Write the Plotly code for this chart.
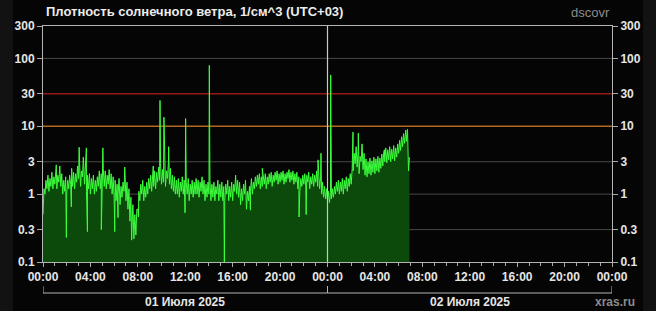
import plotly.graph_objects as go

# ---------------- data ----------------
title_text = "Плотность солнечного ветра, 1/см^3 (UTC+03)"
source_text = "dscovr"
site_text = "xras.ru"
day_labels = ["01 Июля 2025", "02 Июля 2025"]
day_centers = [12, 36]            # hours from 01 Jul 00:00 (UTC+03)

x_tick_hours = [0, 4, 8, 12, 16, 20, 24, 28, 32, 36, 40, 44, 48]
x_tick_labels = ["00:00", "04:00", "08:00", "12:00", "16:00", "20:00",
                 "00:00", "04:00", "08:00", "12:00", "16:00", "20:00", "00:00"]
y_tick_vals = [0.1, 0.3, 1, 3, 10, 30, 100, 300]
y_tick_labels = ["0.1", "0.3", "1", "3", "10", "30", "100", "300"]
grid_vals = [0.3, 1, 3, 100]
alert_levels = [10, 30]

step_minutes = 10
# low / high edge of the noisy density band (1/cm^3) in each 10-minute slot,
# starting 01 Jul 00:00, one row per hour
band_low = [
    0.5, 1.0, 1.2, 1.1, 1.3, 1.2,      # 00
    1.4, 1.2, 1.5, 1.3, 1.0, 1.1,      # 01
    1.0, 1.2, 1.4, 1.3, 1.2, 1.5,      # 02
    1.7, 1.3, 1.8, 1.4, 1.1, 1.2,      # 03
    1.0, 1.2, 1.0, 1.1, 1.3, 1.2,      # 04
    1.4, 1.3, 1.2, 1.4, 1.2, 1.0,      # 05
    0.9, 0.8, 1.0, 0.7, 0.9, 1.1,      # 06
    0.8, 0.6, 0.4, 0.3, 0.22, 0.25,    # 07
    0.6, 0.8, 1.0, 0.8, 0.9, 1.0,      # 08
    1.2, 1.1, 1.3, 1.2, 1.5, 1.6,      # 09
    1.4, 1.5, 1.3, 1.7, 1.4, 1.2,      # 10
    1.1, 1.0, 1.0, 0.9, 1.1, 1.0,      # 11
    0.9, 1.0, 0.8, 1.0, 0.9, 1.0,      # 12
    1.0, 0.9, 1.1, 1.0, 0.8, 0.9,      # 13
    1.0, 0.8, 0.9, 0.8, 1.0, 0.8,      # 14
    0.9, 0.8, 0.8, 1.0, 0.8, 0.9,      # 15
    0.8, 1.1, 1.0, 0.9, 0.7, 0.8,      # 16
    1.0, 0.6, 0.8, 1.1, 1.0, 1.2,      # 17
    1.3, 1.4, 1.2, 1.3, 1.4, 1.2,      # 18
    1.4, 1.5, 1.3, 1.5, 1.6, 1.4,      # 19
    1.5, 1.6, 1.4, 1.5, 1.7, 1.5,      # 20
    1.6, 1.4, 1.5, 1.2, 1.1, 1.3,      # 21
    1.4, 1.3, 1.5, 1.2, 1.4, 1.3,      # 22
    1.5, 1.3, 1.2, 1.0, 0.9, 0.85,     # 23
    0.8, 0.75, 0.85, 0.9, 1.0, 1.1,    # 00 (02 Jul)
    1.0, 1.1, 1.0, 1.2, 1.1, 1.3,      # 01
    1.4, 2.2, 2.8, 2.5, 2.0, 3.0,      # 02
    2.3, 1.9, 1.8, 2.0, 1.9, 2.1,      # 03
    2.0, 2.2, 2.1, 2.4, 2.6, 3.0,      # 04
    2.9, 3.2, 3.0, 3.3, 3.1, 3.5,      # 05
    4.0, 4.4, 5.0, 5.6, 6.0, 2.2,      # 06
]
band_high = [
    1.2, 1.6, 1.9, 1.7, 2.1, 1.8,      # 00
    2.3, 1.9, 2.6, 2.0, 1.6, 1.8,      # 01
    1.6, 1.9, 2.4, 2.1, 2.0, 2.6,      # 02
    3.0, 2.2, 3.2, 2.5, 1.9, 2.0,      # 03
    1.7, 1.9, 1.6, 1.8, 2.2, 2.0,      # 04
    2.4, 2.2, 1.9, 2.3, 2.0, 1.8,      # 05
    1.6, 1.4, 1.7, 1.3, 1.5, 1.9,      # 06
    1.5, 1.2, 0.9, 0.7, 0.5, 0.6,      # 07
    1.1, 1.4, 1.6, 1.3, 1.5, 1.7,      # 08
    1.9, 1.8, 2.2, 2.1, 2.5, 2.8,      # 09
    2.3, 2.6, 2.2, 3.0, 2.4, 1.9,      # 10
    1.8, 1.6, 1.7, 1.5, 1.8, 1.6,      # 11
    1.5, 1.7, 1.4, 1.6, 1.5, 1.7,      # 12
    1.6, 1.5, 1.8, 1.6, 1.4, 1.5,      # 13
    1.6, 1.4, 1.5, 1.3, 1.6, 1.4,      # 14
    1.5, 1.3, 1.4, 1.6, 1.3, 1.5,      # 15
    1.4, 1.9, 1.6, 1.5, 1.2, 1.4,      # 16
    1.6, 1.1, 1.3, 1.7, 1.5, 1.8,      # 17
    1.9, 2.0, 1.8, 1.9, 2.0, 1.8,      # 18
    2.0, 2.1, 1.9, 2.1, 2.2, 2.0,      # 19
    2.1, 2.2, 2.0, 2.1, 2.3, 2.1,      # 20
    2.2, 2.0, 2.1, 1.8, 1.7, 1.9,      # 21
    2.0, 1.9, 2.1, 1.8, 2.0, 1.9,      # 22
    2.2, 2.0, 1.8, 1.5, 1.3, 1.2,      # 23
    1.1, 1.05, 1.2, 1.3, 1.5, 1.6,     # 00 (02 Jul)
    1.5, 1.7, 1.6, 1.8, 1.7, 2.0,      # 01
    2.4, 4.0, 5.0, 4.4, 3.6, 5.5,      # 02
    4.0, 3.3, 3.0, 3.4, 3.1, 3.5,      # 03
    3.3, 3.6, 3.4, 3.9, 4.2, 4.8,      # 04
    4.5, 5.0, 4.6, 5.2, 4.8, 5.5,      # 05
    6.2, 7.0, 7.8, 8.5, 9.0, 3.5,      # 06
]
# short-lived spikes and drops (hours from start, density)
spike_hours = [1.12, 1.97, 2.39, 3.05, 3.4, 3.66, 3.75, 4.92, 5.05, 6.05,
               6.33, 6.9, 7.48, 8.05, 9.3, 9.87, 10.2, 10.6, 11.98, 12.03,
               14.03, 15.3, 17.5, 18.5, 21.6, 22.2, 23.2, 23.45, 24.27,
               26.15, 26.6, 28.8, 30.6]
spike_values = [2.7, 0.23, 0.65, 4.9, 3.5, 4.8, 0.28, 0.3, 4.8, 0.28,
                0.45, 2.5, 0.21, 0.46, 2.6, 24, 13.6, 5.0, 0.53, 13,
                79, 0.1, 0.58, 2.4, 0.46, 0.5, 3.2, 4.0, 57,
                8.2, 7.9, 4.5, 8.8]

# -------------- build series --------------
slot_h = step_minutes / 60
pts = []
for i, (lo, hi) in enumerate(zip(band_low, band_high)):
    pts += [(i * slot_h, lo), (i * slot_h + slot_h / 2, hi)]
pts += list(zip(spike_hours, spike_values))
pts.sort()
hours = [p[0] for p in pts]
values = [p[1] for p in pts]

W, H = 656, 311
L, R, T, B = 43, 44, 26, 49
PW, PH = W - L - R, H - T - B

def px_x(px):   # pixel -> paper x
    return (px - L) / PW

def px_y(py):   # pixel -> paper y
    return (H - B - py) / PH

font_family = "Liberation Sans, Arial, sans-serif"
label_font = dict(family=font_family, size=12, color="#e6e6e6", weight="bold")

fig = go.Figure()
fig.add_trace(go.Scatter(x=[hours[0], hours[-1]], y=[0.1, 0.1], mode="lines",
                         line=dict(width=0), hoverinfo="skip", showlegend=False))
fig.add_trace(go.Scatter(x=hours, y=values, mode="lines", fill="tonexty",
                         fillcolor="#0b4a0b",
                         line=dict(color="#3cff3c", width=1),
                         hoverinfo="skip", showlegend=False))
fig.add_trace(go.Scatter(x=[0], y=[1], yaxis="y2", mode="markers",
                         marker=dict(opacity=0), hoverinfo="skip", showlegend=False))

yaxis_common = dict(type="log", range=[-1, 2.4771], tickmode="array",
                    tickvals=y_tick_vals, ticktext=y_tick_labels,
                    ticks="outside", ticklen=5, tickcolor="#aaaaaa",
                    tickfont=label_font, zeroline=False, fixedrange=True,
                    showgrid=False)

fig.update_layout(
    width=W, height=H, autosize=False,
    margin=dict(l=L, r=R, t=T, b=B, pad=0),
    paper_bgcolor="#121212", plot_bgcolor="#050505",
    showlegend=False,
    xaxis=dict(range=[0, 48], tickmode="array", tickvals=x_tick_hours,
               ticktext=x_tick_labels, ticks="outside", ticklen=4,
               tickcolor="#aaaaaa", tickfont=label_font,
               showgrid=False, zeroline=False,
               showline=True, linecolor="#b4b4b4", linewidth=1, mirror=True,
               minor=dict(dtick=1, ticks="outside", ticklen=3, tickcolor="#aaaaaa",
                          showgrid=False)),
    yaxis=dict(**yaxis_common, showline=True, linecolor="#b4b4b4",
               linewidth=1, mirror=True),
    yaxis2=dict(**yaxis_common, overlaying="y", side="right", showline=False),
)

shapes = [
    # dark picture area over the grey outer strip
    dict(type="rect", xref="paper", yref="paper", x0=px_x(13), x1=px_x(643),
         y0=-0.3, y1=1.2, fillcolor="#050505", line=dict(width=0), layer="below"),
]
for g in grid_vals:
    shapes.append(dict(type="line", xref="paper", yref="y", x0=0, x1=1, y0=g, y1=g,
                       line=dict(color="#484848", width=1), layer="below"))
for lvl, col in zip(alert_levels, ["#b4661e", "#961818"]):
    shapes.append(dict(type="line", xref="paper", yref="y", x0=0, x1=1, y0=lvl, y1=lvl,
                       line=dict(color=col, width=1.5), layer="below"))
# day separator
shapes.append(dict(type="line", xref="x", yref="paper", x0=24, x1=24, y0=0, y1=1,
                   line=dict(color="#c8c8c8", width=1.2), layer="above"))
# day brackets under the axis
for d in range(2):
    x0, x1 = d * 24, (d + 1) * 24
    shapes.append(dict(type="path", xref="x", yref="paper",
                       path=f"M {x0},{px_y(286)} L {x0},{px_y(293)} L {x1},{px_y(293)} L {x1},{px_y(286)}",
                       line=dict(color="#b4b4b4", width=1)))
fig.update_layout(shapes=shapes)

annotations = [
    dict(text=title_text, xref="paper", yref="paper", x=px_x(44), y=px_y(12),
         xanchor="left", yanchor="middle", showarrow=False,
         font=dict(family=font_family, size=13, color="#ececec", weight="bold")),
    dict(text=source_text, xref="paper", yref="paper", x=px_x(612), y=px_y(13),
         xanchor="right", yanchor="middle", showarrow=False,
         font=dict(family=font_family, size=13, color="#8c8c8c")),
    dict(text=site_text, xref="paper", yref="paper", x=px_x(637), y=px_y(302),
         xanchor="right", yanchor="middle", showarrow=False,
         font=dict(family=font_family, size=12, color="#8c8c8c", weight="bold")),
]
for lab, c in zip(day_labels, day_centers):
    annotations.append(dict(text=lab, xref="x", yref="paper", x=c, y=px_y(302),
                            xanchor="center", yanchor="middle", showarrow=False,
                            font=label_font))
fig.update_layout(annotations=annotations)

fig.write_html("out.html")
